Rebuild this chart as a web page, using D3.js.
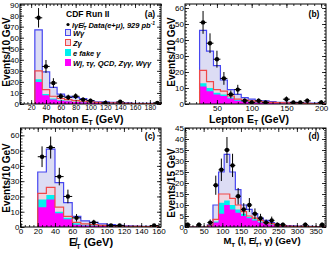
<!DOCTYPE html>
<html><head><meta charset="utf-8">
<script src="https://cdn.jsdelivr.net/npm/d3@7/dist/d3.min.js"></script>
<style>
html,body{margin:0;padding:0;background:#fff;}
svg text{font-family:"Liberation Sans",Arial,Helvetica,sans-serif;}
</style></head>
<body><svg id="c" width="332" height="257"></svg>
<script>
// ---------- DATA ----------
// Panel (a): Photon ET, 10 GeV bins starting at 25
const photonEdgeStart = 25, photonBinWidth = 10;
const photonData   = [78,34,19,7,6,7,4,3,0,1,0,2,0,0,0,0,1];
const photonWg     = [67,29,15,9,7,6,5,3,2,2,1.5,1,1,0.6,0.5,0.5,0.4];
const photonZg     = [30,13,7,5,4,3,2.5,2,1.5,1,1,0.8,0.6,0.4,0.4,0.3,0.3];
const photonEfake  = [22.5,9,5,3.5,3,2,1.8,1.5,1,0.8,0.7,0.5,0.4,0.3,0.3,0.2,0.2];
const photonOther  = [20,8,4,3,2.5,1.8,1.5,1.2,0.8,0.6,0.5,0.4,0.3,0.2,0.2,0.2,0.1];

// Panel (b): Lepton ET, 10 GeV bins starting at 25
const leptonEdgeStart = 25, leptonBinWidth = 10;
const leptonData  = [51,38,28,16,6,9,2,1,2,1,0,0,3,1,1,2,0,1];
const leptonWg    = [46,33,24,15,9,6,4,3,2,2,1.5,1,1,1,0.8,0.6,0.5,0.5];
const leptonZg    = [21,14,9,8,5,3,2.5,2,1.5,1.2,1,0.8,0.7,0.6,0.5,0.4,0.3,0.3];
const leptonEfake = [13,10,7,6,4,2.5,2,1.5,1.2,1,0.8,0.6,0.5,0.5,0.4,0.3,0.3,0.2];
const leptonOther = [11,8,6,5,3.5,2,1.6,1.2,1,0.8,0.6,0.5,0.4,0.4,0.3,0.2,0.2,0.2];

// Panel (c): missing ET, 10 GeV bins starting at 20
const metEdgeStart = 20, metBinWidth = 10;
const metData  = [46,52,33,20,6,0,3,0,1,1,0,0,0,1];
const metWg    = [36,51,29,16,7,4,3,2,1.5,1,0.8,0.6,0.5,0.4];
const metZg    = [22,26,13,7,3,2,1.5,1,0.8,0.6,0.5,0.4,0.3,0.3];
const metEfake = [18,21,10,6,2.5,1.5,1.2,0.8,0.6,0.5,0.4,0.3,0.2,0.2];
const metOther = [13,18,9,5,1.5,1,0.8,0.6,0.5,0.4,0.3,0.2,0.2,0.1];

// Panel (d): MT(l,ET,gamma), 15 GeV bins starting at 0
const mtEdgeStart = 0, mtBinWidth = 15;
const mtData  = [1,0,1,0,2,19,26,35,28,14,8,10,6,4,2,3,1,1,0,0,0,1,0,0,1];
const mtWg    = [0,0,0,0,1,10,25,33,25,17,10,8,6,4,3,2,1.2,0.8,0.6,0.5,0.4,0.3,0.3,0.2,0.2];
const mtZg    = [0,0,0,0,0.8,3.5,15,15,13,10,7,5,4,3,2,1.5,0.8,0.6,0.4,0.3,0.3,0.2,0.2,0.1,0.1];
const mtEfake = [0,0,0,0,0.6,2.5,11,12,10,8,6,4.5,3.5,2.5,1.8,1.2,0.7,0.5,0.3,0.3,0.2,0.2,0.1,0.1,0.1];
const mtOther = [0,0,0,0,0.5,2,6,10,8,6.5,5,4,3,2,1.5,1,0.6,0.4,0.3,0.2,0.2,0.1,0.1,0.1,0.1];

// Tick values
const photonXTicks = [20,40,60,80,100,120,140,160,180];
const leptonXTicks = [50,100,150,200];
const metXTicks    = [0,20,40,60,80,100,120,140,160];
const mtXTicks     = [0,50,100,150,200,250,300,350];
const photonYTicks = [0,10,20,30,40,50,60,70,80,90];
const leptonYTicks = [0,10,20,30,40,50,60];
const metYTicks    = [0,10,20,30,40,50,60];
const mtYTicks     = [0,5,10,15,20,25,30,35,40,45];

const legendLabels = ["W\u03B3","Z\u03B3","e fake \u03B3","Wj, \u03C4\u03B3, QCD, Z\u03B3\u03B3, W\u03B3\u03B3"];

// ---------- STYLE ----------
const COL = {
  wgFill:"#dcdcf4", wgLine:"#4646f0",
  zgFill:"#f0d4e0", zgLine:"#f04848",
  efake:"#00f0f0", other:"#ff00ff"
};

const svg = d3.select("#c");
const defs = svg.append("defs");

function panel(cfg){
  const g = svg.append("g");
  const x = d3.scaleLinear().domain(cfg.xDomain).range([cfg.x0,cfg.x1]);
  const y = d3.scaleLinear().domain(cfg.yDomain).range([cfg.y1,cfg.y0]);
  const id = "clip"+cfg.label;
  defs.append("clipPath").attr("id",id).append("rect")
    .attr("x",cfg.x0).attr("y",cfg.y0).attr("width",cfg.x1-cfg.x0).attr("height",cfg.y1-cfg.y0);
  const pg = g.append("g").attr("clip-path","url(#"+id+")");
  const edge = i => cfg.start + i*cfg.bw;
  function stepPts(vals){
    const pts=[[x(edge(0)),y(0)]];
    vals.forEach((v,i)=>{pts.push([x(edge(i)),y(v)]);pts.push([x(edge(i+1)),y(v)]);});
    pts.push([x(edge(vals.length)),y(0)]);
    return pts;
  }
  const line = d3.line();
  const layers = [
    {v:cfg.wg, fill:COL.wgFill, stroke:COL.wgLine, w:1.2},
    {v:cfg.zg, fill:COL.zgFill, stroke:COL.zgLine, w:1.2},
    {v:cfg.efake, fill:COL.efake},
    {v:cfg.other, fill:COL.other}
  ];
  layers.forEach(L=>{
    pg.append("path").attr("d",line(stepPts(L.v))+"Z").attr("fill",L.fill).attr("stroke","none");
  });
  layers.slice(0,2).forEach(L=>{
    pg.append("path").attr("d",line(stepPts(L.v))).attr("fill","none").attr("stroke",L.stroke).attr("stroke-width",L.w);
  });
  // data points
  cfg.data.forEach((v,i)=>{
    if(v<=0) return;
    const cx = x(edge(i)+cfg.bw/2), e=Math.sqrt(v);
    pg.append("line").attr("x1",x(edge(i))).attr("x2",x(edge(i+1))).attr("y1",y(v)).attr("y2",y(v))
      .attr("stroke","#000").attr("stroke-width",1);
    pg.append("line").attr("x1",cx).attr("x2",cx).attr("y1",y(v-e)).attr("y2",y(v+e))
      .attr("stroke","#000").attr("stroke-width",1);
    pg.append("circle").attr("cx",cx).attr("cy",y(v)).attr("r",2.2).attr("fill","#000");
  });
  // frame
  g.append("rect").attr("x",cfg.x0).attr("y",cfg.y0).attr("width",cfg.x1-cfg.x0).attr("height",cfg.y1-cfg.y0)
    .attr("fill","none").attr("stroke","#000").attr("stroke-width",1);
  // ticks
  const xMinor = d3.range(Math.ceil(cfg.xDomain[0]/cfg.xMinorStep)*cfg.xMinorStep, cfg.xDomain[1]+1e-6, cfg.xMinorStep);
  const yMinor = d3.range(0, cfg.yDomain[1]+1e-6, cfg.yMinorStep);
  const ax = (gen, tr, vals, size, labels, fsz) => {
    const a = gen.tickValues(vals).tickSize(size).tickPadding(1);
    if(!labels) a.tickFormat("");
    const s = g.append("g").attr("transform",tr).call(a);
    s.select(".domain").remove();
    s.selectAll("line").attr("stroke","#000").attr("stroke-width",0.8);
    s.selectAll("text").attr("font-size",fsz||8).attr("fill","#000").attr("font-family","Liberation Sans, Arial, sans-serif");
    return s;
  };
  ax(d3.axisBottom(x), `translate(0,${cfg.y1})`, xMinor, -2, false);
  ax(d3.axisBottom(x), `translate(0,${cfg.y1})`, cfg.xTicks, -4, true, cfg.xtickfs);
  ax(d3.axisTop(x), `translate(0,${cfg.y0})`, xMinor, -2, false);
  ax(d3.axisTop(x), `translate(0,${cfg.y0})`, cfg.xTicks, -4, false);
  ax(d3.axisLeft(y), `translate(${cfg.x0},0)`, yMinor, -2, false);
  ax(d3.axisLeft(y), `translate(${cfg.x0},0)`, cfg.yTicks, -4, true);
  ax(d3.axisRight(y), `translate(${cfg.x1},0)`, yMinor, -2, false);
  ax(d3.axisRight(y), `translate(${cfg.x1},0)`, cfg.yTicks, -4, false);
  // y title
  g.append("text").attr("transform",`translate(${cfg.ytx},${cfg.yty}) rotate(-90)`)
    .attr("text-anchor","middle").attr("font-size",10).attr("font-weight","bold").text(cfg.ytitle);
  // x title
  const fs = cfg.xtfs||10.5;
  const xt = g.append("text").attr("x",cfg.xtx).attr("y",cfg.xty).attr("text-anchor","middle")
    .attr("font-size",fs).attr("font-weight","bold");
  cfg.xtitle.forEach(p=>{
    const t = xt.append("tspan").text(p.t);
    if(p.sub){ t.attr("font-size",fs*0.65).attr("dy",2.5); }
    if(p.back){ t.attr("dy",-2.5); }
  });
  // panel label
  g.append("text").attr("x",cfg.lx).attr("y",cfg.ly).attr("text-anchor","middle")
    .attr("font-size",8.5).attr("font-weight","bold").text("("+cfg.label+")");
  return {g,x,y};
}

panel({label:"a", x0:20,x1:161,y0:4,y1:104, xDomain:[5,195], yDomain:[0,90.5],
  start:photonEdgeStart,bw:photonBinWidth, data:photonData, wg:photonWg, zg:photonZg, efake:photonEfake, other:photonOther,
  xTicks:photonXTicks, xMinorStep:5, yTicks:photonYTicks, yMinorStep:2, xtickfs:7,
  ytitle:"Events/10 GeV", ytx:9.5, yty:52,
  xtitle:[{t:"Photon E"},{t:"T",sub:true},{t:"  (GeV)",back:true}], xtx:83, xty:122.5,
  lx:150, ly:17});

panel({label:"b", x0:185,x1:326,y0:4,y1:104, xDomain:[4,207], yDomain:[0,62.5],
  start:leptonEdgeStart,bw:leptonBinWidth, data:leptonData, wg:leptonWg, zg:leptonZg, efake:leptonEfake, other:leptonOther,
  xTicks:leptonXTicks, xMinorStep:10, yTicks:leptonYTicks, yMinorStep:2,
  ytitle:"Events/10 GeV", ytx:174.5, yty:52,
  xtitle:[{t:"Lepton E"},{t:"T",sub:true},{t:"  (GeV)",back:true}], xtx:249, xty:122.5,
  lx:314, ly:17});

panel({label:"c", x0:20.5,x1:161,y0:128,y1:227, xDomain:[0,163], yDomain:[0,64.8],
  start:metEdgeStart,bw:metBinWidth, data:metData, wg:metWg, zg:metZg, efake:metEfake, other:metOther,
  xTicks:metXTicks, xMinorStep:5, yTicks:metYTicks, yMinorStep:2,
  ytitle:"Events/10 GeV", ytx:9.5, yty:178,
  xtitle:[{t:"E\u0338"},{t:"T",sub:true},{t:" (GeV)",back:true}], xtfs:11, xtx:91, xty:246,
  lx:150, ly:139});

panel({label:"d", x0:185,x1:326,y0:128,y1:227, xDomain:[0,378], yDomain:[0,45],
  start:mtEdgeStart,bw:mtBinWidth, data:mtData, wg:mtWg, zg:mtZg, efake:mtEfake, other:mtOther,
  xTicks:mtXTicks, xMinorStep:10, yTicks:mtYTicks, yMinorStep:1,
  ytitle:"Events/15 GeV", ytx:174.5, yty:183,
  xtitle:[{t:"M"},{t:"T",sub:true},{t:" (l, E\u0338",back:true},{t:"T",sub:true},{t:", \u03B3)  (GeV)",back:true}], xtfs:9.5, xtx:262, xty:244,
  lx:314, ly:139});

// ---------- LEGEND (panel a) ----------
const lg = svg.append("g");
lg.append("text").attr("x",66).attr("y",17).attr("font-size",8.5).attr("font-weight","bold").text("CDF Run II");
lg.append("circle").attr("cx",68).attr("cy",24.5).attr("r",1.6).attr("fill","#000");
const dt = lg.append("text").attr("x",72).attr("y",27.5).attr("font-size",7.5).attr("font-weight","bold").attr("font-style","italic");
dt.append("tspan").text("l\u03B3E\u0338");
dt.append("tspan").text("T").attr("font-size",5).attr("dy",2);
dt.append("tspan").text(" Data(e+\u03BC), 929 pb").attr("dy",-2);
dt.append("tspan").text("-1").attr("font-size",5).attr("dy",-3);
const boxes = [
  {fill:COL.wgFill, stroke:COL.wgLine},
  {fill:COL.zgFill, stroke:COL.zgLine},
  {fill:COL.efake, stroke:COL.efake},
  {fill:COL.other, stroke:COL.other}
];
legendLabels.forEach((lab,i)=>{
  const cy = 32.5 + i*10;
  lg.append("rect").attr("x",65.5).attr("y",cy-3).attr("width",5).attr("height",6)
    .attr("fill",boxes[i].fill).attr("stroke",boxes[i].stroke).attr("stroke-width",1);
  lg.append("text").attr("x",73).attr("y",cy+3).attr("font-size",7.5).attr("font-weight","bold").attr("font-style","italic").text(lab);
});
</script></body></html>
